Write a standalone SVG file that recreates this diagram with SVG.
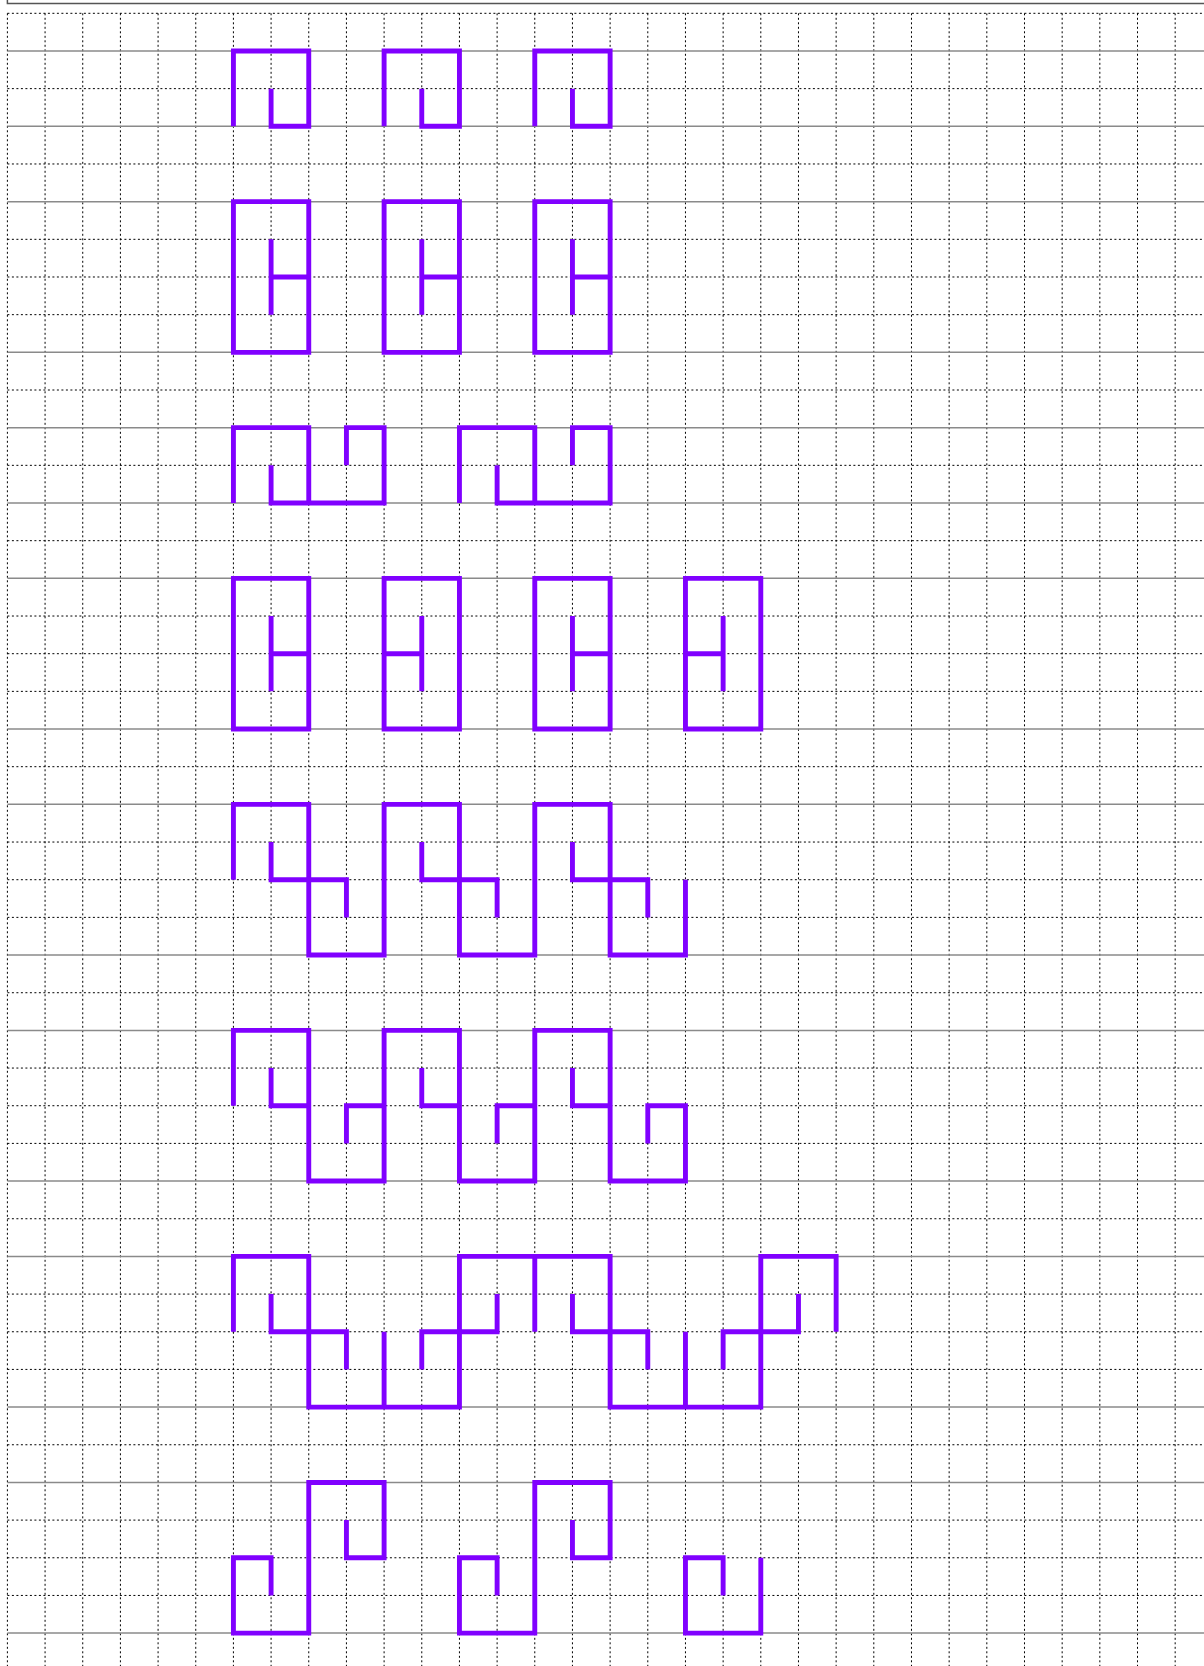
<svg xmlns="http://www.w3.org/2000/svg" width="1204" height="1666" viewBox="0 0 1204 1666">
<style>
.dash{fill:none;stroke:#000;stroke-width:1;stroke-dasharray:2,2.5}
.solid{fill:none;stroke:#8a8a8a;stroke-width:1.5}
.frame{fill:none;stroke:#555;stroke-width:1.5}
.p{fill:none;stroke:#8000ff;stroke-width:0.13;stroke-linecap:butt;stroke-linejoin:miter}
</style>
<rect width="1204" height="1666" fill="#fff"/>
<g id="grid">
<path class="frame" d="M7.4,0 V3.5 H1204"/>
<path class="dash" d="M7.4,13.3V1666 M45.07,13.3V1666 M82.74,13.3V1666 M120.41,13.3V1666 M158.08,13.3V1666 M195.75,13.3V1666 M233.42,13.3V1666 M271.09,13.3V1666 M308.76,13.3V1666 M346.43,13.3V1666 M384.1,13.3V1666 M421.77,13.3V1666 M459.44,13.3V1666 M497.11,13.3V1666 M534.78,13.3V1666 M572.45,13.3V1666 M610.12,13.3V1666 M647.79,13.3V1666 M685.46,13.3V1666 M723.13,13.3V1666 M760.8,13.3V1666 M798.47,13.3V1666 M836.14,13.3V1666 M873.81,13.3V1666 M911.48,13.3V1666 M949.15,13.3V1666 M986.82,13.3V1666 M1024.49,13.3V1666 M1062.16,13.3V1666 M1099.83,13.3V1666 M1137.5,13.3V1666 M1175.17,13.3V1666"/>
<path class="dash" d="M7.4,13.3H1204 M7.4,88.64H1204 M7.4,163.98H1204 M7.4,239.32H1204 M7.4,276.99H1204 M7.4,314.66H1204 M7.4,390H1204 M7.4,465.34H1204 M7.4,540.68H1204 M7.4,616.02H1204 M7.4,653.69H1204 M7.4,691.36H1204 M7.4,766.7H1204 M7.4,842.04H1204 M7.4,879.71H1204 M7.4,917.38H1204 M7.4,992.72H1204 M7.4,1068.06H1204 M7.4,1105.73H1204 M7.4,1143.4H1204 M7.4,1218.74H1204 M7.4,1294.08H1204 M7.4,1331.75H1204 M7.4,1369.42H1204 M7.4,1444.76H1204 M7.4,1520.1H1204 M7.4,1557.77H1204 M7.4,1595.44H1204"/>
<path class="solid" d="M7.4,50.97H1204 M7.4,126.31H1204 M7.4,201.65H1204 M7.4,352.33H1204 M7.4,427.67H1204 M7.4,503.01H1204 M7.4,578.35H1204 M7.4,729.03H1204 M7.4,804.37H1204 M7.4,955.05H1204 M7.4,1030.39H1204 M7.4,1181.07H1204 M7.4,1256.41H1204 M7.4,1407.09H1204 M7.4,1482.43H1204 M7.4,1633.11H1204"/>
</g>
<g id="shapes" transform="translate(7.4,13.3) scale(37.67)">
<g id="r1a"><path class="p" d="M6,3V1H8V3H7V2"/></g>
<g id="r1b"><path class="p" d="M10,3V1H12V3H11V2"/></g>
<g id="r1c"><path class="p" d="M14,3V1H16V3H15V2"/></g>
<g id="r2a"><path class="p" d="M6,5H8V9H6Z M7,6V8 M7,7H8"/></g>
<g id="r2b"><path class="p" d="M10,5H12V9H10Z M11,6V8 M11,7H12"/></g>
<g id="r2c"><path class="p" d="M14,5H16V9H14Z M15,6V8 M15,7H16"/></g>
<g id="r3a"><path class="p" d="M6,13V11H8V13 M7,12V13H10V11H9V12"/></g>
<g id="r3b"><path class="p" d="M12,13V11H14V13 M13,12V13H16V11H15V12"/></g>
<g id="r4a"><path class="p" d="M6,15H8V19H6Z M7,16V18 M7,17H8"/></g>
<g id="r4b"><path class="p" d="M10,15H12V19H10Z M11,16V18 M10,17H11"/></g>
<g id="r4c"><path class="p" d="M14,15H16V19H14Z M15,16V18 M15,17H16"/></g>
<g id="r4d"><path class="p" d="M18,15H20V19H18Z M19,16V18 M18,17H19"/></g>
<g id="r5"><path class="p" d="M6,23V21H8V25H10V21H12V25H14V21H16V25H18V23 M7,22V23H9V24 M11,22V23H13V24 M15,22V23H17V24"/></g>
<g id="r6"><path class="p" d="M6,29V27H8V31H10V27H12V31H14V27H16V31H18V29H17V30 M7,28V29H8 M9,30V29H10 M11,28V29H12 M13,30V29H14 M15,28V29H16"/></g>
<g id="r7"><path class="p" d="M6,35V33H8V37H12V33H16V37H20V33H22V35 M7,34V35H9V36 M10,35V37 M11,36V35H13V34 M14,33V35 M15,34V35H17V36 M18,35V37 M19,36V35H21V34"/></g>
<g id="r8a"><path class="p" d="M7,42V41H6V43H8V39H10V41H9V40"/></g>
<g id="r8b"><path class="p" d="M13,42V41H12V43H14V39H16V41H15V40"/></g>
<g id="r8c"><path class="p" d="M19,42V41H18V43H20V41"/></g>
</g>
<g id="connectors"/>
</svg>
